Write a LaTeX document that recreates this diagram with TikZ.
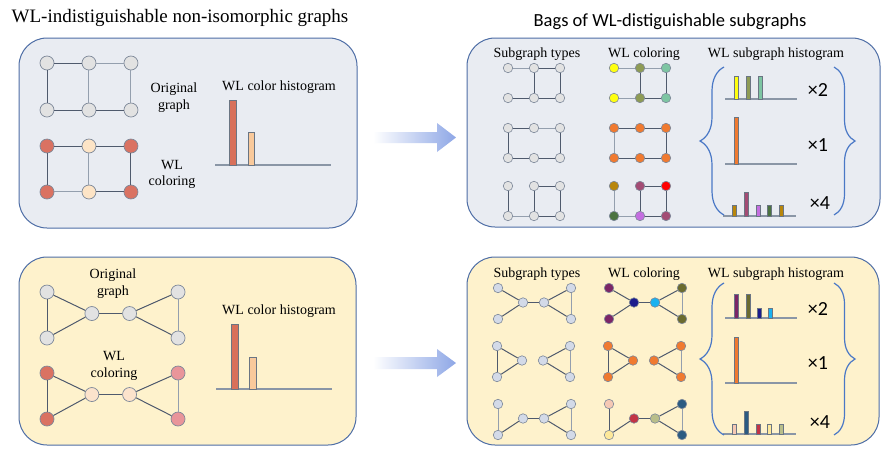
\documentclass[tikz,border=0pt]{standalone}
\usepackage{fontspec}
\setmainfont{Liberation Serif}
\newfontfamily\serfont{Liberation Serif}
\newfontfamily\calfont{Carlito}
\usetikzlibrary{decorations.pathreplacing}
\definecolor{panelline}{HTML}{4E6EA6}
\definecolor{bluefill}{HTML}{E9ECF2}
\definecolor{yelfill}{HTML}{FEF2CC}
\definecolor{nodeline}{HTML}{7D8899}
\definecolor{edgeD}{HTML}{4F5A6D}
\definecolor{edgeL}{HTML}{949FAE}
\definecolor{barline}{HTML}{6A7583}
\definecolor{baseline}{HTML}{8A96A6}
\definecolor{bracec}{HTML}{4A78C6}
\definecolor{arrowblue}{HTML}{8EA7E6}
\definecolor{ngray}{HTML}{E2E2E2}
\definecolor{nblue}{HTML}{D3DAE8}
\definecolor{nred}{HTML}{DA7262}
\definecolor{npeach}{HTML}{FDE4C6}
\definecolor{npeachb}{HTML}{FCE3CC}
\definecolor{npink}{HTML}{E9959A}
\definecolor{bred}{HTML}{D8705A}
\definecolor{bpeach}{HTML}{F9C99B}
\definecolor{cyel}{HTML}{FFFF10}
\definecolor{colive}{HTML}{8E9B55}
\definecolor{cteal}{HTML}{7DC5A2}
\definecolor{corange}{HTML}{F07A30}
\definecolor{cgold}{HTML}{B8860B}
\definecolor{cplum}{HTML}{A34C74}
\definecolor{cred}{HTML}{FF0000}
\definecolor{cgreen}{HTML}{4B7340}
\definecolor{cviolet}{HTML}{C46EE0}
\definecolor{cpurple}{HTML}{7B2667}
\definecolor{cnavy}{HTML}{1C1C8C}
\definecolor{ccyan}{HTML}{1AB2F0}
\definecolor{cdolive}{HTML}{6B6B2E}
\definecolor{cpeach}{HTML}{F5C8B4}
\definecolor{clyel}{HTML}{FDE89A}
\definecolor{ccrim}{HTML}{C23445}
\definecolor{csage}{HTML}{B9BE8A}
\definecolor{ctblue}{HTML}{2B5B82}
\newcommand\gsix[7]{%
 \node[v,fill=#2] (#1a) at (0,0) {};
 \node[v,fill=#3] (#1b) at (26,0) {};
 \node[v,fill=#4] (#1c) at (52,0) {};
 \node[v,fill=#5] (#1d) at (0,30) {};
 \node[v,fill=#6] (#1e) at (26,30) {};
 \node[v,fill=#7] (#1f) at (52,30) {};}
\newcommand\gbow[7]{%
 \node[v,fill=#2] (#1a) at (0,0) {};
 \node[v,fill=#3] (#1b) at (0,31) {};
 \node[v,fill=#4] (#1c) at (25,14.5) {};
 \node[v,fill=#5] (#1d) at (46,14.5) {};
 \node[v,fill=#6] (#1e) at (73,0) {};
 \node[v,fill=#7] (#1f) at (73,31) {};}
\newcommand\gedges[2]{\foreach \u/\w/\s in {#2} \draw[\s] (#1\u) -- (#1\w);}
\begin{document}
\begin{tikzpicture}[x=1pt,y=-1pt,
 panel/.style={draw=panelline,line width=1pt,rounded corners=28pt},
 v/.style={circle,draw=nodeline,line width=0.6pt,inner sep=0pt,minimum size=9.5pt},
 bigv/.style={v/.style={circle,draw=nodeline,line width=0.7pt,inner sep=0pt,minimum size=14pt}},
 eD/.style={draw=edgeD,line width=1pt},
 eL/.style={draw=edgeL,line width=1pt},
 hbar/.style={draw=barline,line width=0.7pt},
 hline/.style={draw=baseline,line width=1.1pt},
 lbl/.style={font=\serfont\fontsize{14}{17}\selectfont,inner sep=0pt,anchor=base},
 mult/.style={font=\calfont\fontsize{20}{24}\selectfont,inner sep=0pt},
 brc/.style={draw=bracec,line width=1.2pt,decorate,decoration={brace,amplitude=#1}},
 arr/.style={left color=white,right color=arrowblue,draw=none}]
\useasboundingbox (0,0) rectangle (888,456);
\fill[white] (0,0) rectangle (888,456);
% panels
\draw[panel,fill=bluefill] (19,38) rectangle (357,228);
\draw[panel,fill=bluefill] (467,38) rectangle (880,227);
\draw[panel,fill=yelfill] (19,257) rectangle (356,445);
\draw[panel,fill=yelfill] (467,257) rectangle (879,445);
% titles
\node[font=\serfont\fontsize{19}{22}\selectfont,anchor=base,inner sep=0pt] (t1) at (180,22.7) {WL-indistiguishable non-isomorphic graphs};
\node[font=\calfont\fontsize{18.5}{22}\selectfont,anchor=base,inner sep=0pt] (t2) at (670,26.7) {Bags of WL-distiguishable subgraphs};
% arrows
\shade[arr] (373,132) -- (437,132) -- (437,123) -- (456,137.5) -- (437,152) -- (437,143) -- (373,143) -- cycle;
\shade[arr] (373,357) -- (437,357) -- (437,349) -- (456,363) -- (437,377) -- (437,369) -- (373,369) -- cycle;
% ---------- top left ----------
\begin{scope}[shift={(47,63)},xscale=1.615,yscale=1.567,bigv]
\gsix{tlo}{ngray}{ngray}{ngray}{ngray}{ngray}{ngray}
\end{scope}
\begin{scope}[shift={(47,146)},xscale=1.615,yscale=1.533,bigv]
\gsix{tlw}{nred}{npeach}{nred}{nred}{npeach}{nred}
\end{scope}
\gedges{tlo}{a/b/eD,b/c/eL,a/d/eD,b/e/eL,c/f/eL,d/e/eD,e/f/eD}
\gedges{tlw}{a/b/eD,b/c/eD,a/d/eD,b/e/eL,c/f/eD,d/e/eL,e/f/eD}
\node[lbl] (tlog1) at (174,92) {Original};
\node[lbl] (tlog2) at (174,109) {graph};
\node[lbl] (tlwl1) at (172,169.5) {WL};
\node[lbl] (tlwl2) at (172,185.5) {coloring};
\node[lbl] (tlh) at (279,90) {WL color histogram};
\draw[hline] (215,165) -- (331,165);
\draw[hbar,fill=bred] (229,165) rectangle (236,100);
\draw[hbar,fill=bpeach] (248,165) rectangle (254.5,132);
% ---------- bottom left ----------
\begin{scope}[shift={(47,292)},xscale=1.795,yscale=1.484,bigv]
\gbow{blo}{ngray}{ngray}{ngray}{ngray}{ngray}{ngray}
\end{scope}
\begin{scope}[shift={(47,373)},xscale=1.795,yscale=1.484,bigv]
\gbow{blw}{nred}{nred}{npeachb}{npeachb}{npink}{npink}
\end{scope}
\gedges{blo}{a/b/eD,a/c/eD,b/c/eD,c/d/eD,d/e/eD,d/f/eD,e/f/eL}
\gedges{blw}{a/b/eD,a/c/eD,b/c/eD,c/d/eD,d/e/eD,d/f/eD,e/f/eL}
\node[lbl] (blog1) at (113,278) {Original};
\node[lbl] (blog2) at (113,295) {graph};
\node[lbl] (blwl1) at (114,360) {WL};
\node[lbl] (blwl2) at (114,377) {coloring};
\node[lbl] (blh) at (279,314) {WL color histogram};
\draw[hline] (216,389) -- (332,389);
\draw[hbar,fill=bred] (231,389) rectangle (238,324);
\draw[hbar,fill=bpeach] (249,389) rectangle (256,357);
% ---------- top right ----------
\node[lbl] (trh1) at (537,57) {Subgraph types};
\node[lbl] (trh2) at (644,57) {WL coloring};
\node[lbl] (trh3) at (776,57) {WL subgraph histogram};
\begin{scope}[shift={(508,68)}]\gsix{rat}{ngray}{ngray}{ngray}{ngray}{ngray}{ngray}\end{scope}
\begin{scope}[shift={(614,68)}]\gsix{raw}{cyel}{colive}{cteal}{cyel}{colive}{cteal}\end{scope}
\begin{scope}[shift={(508,128)}]\gsix{rbt}{ngray}{ngray}{ngray}{ngray}{ngray}{ngray}\end{scope}
\begin{scope}[shift={(614,128)}]\gsix{rbw}{corange}{corange}{corange}{corange}{corange}{corange}\end{scope}
\begin{scope}[shift={(508,186)}]\gsix{rct}{ngray}{ngray}{ngray}{ngray}{ngray}{ngray}\end{scope}
\begin{scope}[shift={(614,186)}]\gsix{rcw}{cgold}{cplum}{cred}{cgreen}{cviolet}{cplum}\end{scope}
\gedges{rat}{a/b/eL,b/c/eD,b/e/eD,c/f/eD,d/e/eD,e/f/eD}
\gedges{raw}{a/b/eL,b/c/eL,b/e/eD,c/f/eD,d/e/eL,e/f/eD}
\gedges{rbt}{a/b/eD,b/c/eL,a/d/eD,c/f/eD,d/e/eD,e/f/eD}
\gedges{rbw}{a/b/eD,b/c/eD,a/d/eL,c/f/eD,d/e/eD,e/f/eD}
\gedges{rct}{a/d/eD,d/e/eL,e/f/eD,b/e/eD,b/c/eD,c/f/eD}
\gedges{rcw}{a/d/eL,d/e/eL,e/f/eD,b/e/eD,b/c/eD,c/f/eD}
% histograms
\draw[hline] (725,99) -- (797,99);
\draw[hbar,fill=cyel] (734,99) rectangle (738,76);
\draw[hbar,fill=colive] (746,99) rectangle (750,76);
\draw[hbar,fill=cteal] (758,99) rectangle (762,76);
\draw[hline] (725,164) -- (797,164);
\draw[hbar,fill=corange] (734,164) rectangle (738,117);
\draw[hline] (723,216) -- (796,216);
\draw[hbar,fill=cgold] (732,216) rectangle (736,205);
\draw[hbar,fill=cplum] (744,216) rectangle (748,192);
\draw[hbar,fill=cviolet] (756,216) rectangle (760,205);
\draw[hbar,fill=cgreen] (767,216) rectangle (771,205);
\draw[hbar,fill=cgold] (779,216) rectangle (783,205);
\draw[brc=24pt] (724,215) -- (724,67);
\draw[brc=21pt] (834,67) -- (834,215);
\node[mult] (m1) at (818,90) {×2};
\node[mult] (m2) at (818,145) {×1};
\node[mult] (m3) at (820,203) {×4};
% ---------- bottom right ----------
\node[lbl] (brh1) at (537,277) {Subgraph types};
\node[lbl] (brh2) at (644,277) {WL coloring};
\node[lbl] (brh3) at (776,277) {WL subgraph histogram};
\begin{scope}[shift={(498,288)}]\gbow{sat}{nblue}{nblue}{nblue}{nblue}{nblue}{nblue}\end{scope}
\begin{scope}[shift={(609,288)}]\gbow{saw}{cpurple}{cpurple}{cnavy}{ccyan}{cdolive}{cdolive}\end{scope}
\begin{scope}[shift={(497,346)}]\gbow{sbt}{nblue}{nblue}{nblue}{nblue}{nblue}{nblue}\end{scope}
\begin{scope}[shift={(608,346)}]\gbow{sbw}{corange}{corange}{corange}{corange}{corange}{corange}\end{scope}
\begin{scope}[shift={(498,404)}]\gbow{sct}{nblue}{nblue}{nblue}{nblue}{nblue}{nblue}\end{scope}
\begin{scope}[shift={(609,404)}]\gbow{scw}{cpeach}{clyel}{ccrim}{csage}{ctblue}{ctblue}\end{scope}
\gedges{sat}{a/c/eD,b/c/eD,c/d/eD,d/e/eD,d/f/eD,e/f/eL}
\gedges{saw}{a/c/eD,b/c/eD,c/d/eD,d/e/eD,d/f/eD,e/f/eL}
\gedges{sbt}{a/b/eD,a/c/eD,b/c/eD,d/e/eD,d/f/eD,e/f/eL}
\gedges{sbw}{a/b/eD,a/c/eD,b/c/eD,d/e/eD,d/f/eD,e/f/eL}
\gedges{sct}{a/b/eL,b/c/eD,c/d/eD,d/e/eD,d/f/eD,e/f/eL}
\gedges{scw}{a/b/eD,b/c/eD,c/d/eD,d/e/eD,d/f/eD,e/f/eL}
\draw[hline] (725,318) -- (797,318);
\draw[hbar,fill=cpurple] (734,318) rectangle (738,294);
\draw[hbar,fill=cdolive] (746,318) rectangle (750,294);
\draw[hbar,fill=cnavy] (757,318) rectangle (761,308);
\draw[hbar,fill=ccyan] (768,318) rectangle (772,308);
\draw[hline] (725,383) -- (797,383);
\draw[hbar,fill=corange] (734,383) rectangle (738,337);
\draw[hline] (723,434) -- (796,434);
\draw[hbar,fill=cpeach] (732,434) rectangle (736,424);
\draw[hbar,fill=ctblue] (744,434) rectangle (748,411);
\draw[hbar,fill=ccrim] (756,434) rectangle (760,424);
\draw[hbar,fill=clyel] (767,434) rectangle (771,424);
\draw[hbar,fill=csage] (779,434) rectangle (783,424);
\draw[brc=24pt] (724,435) -- (724,283);
\draw[brc=21pt] (834,283) -- (834,435);
\node[mult] (m4) at (818,309) {×2};
\node[mult] (m5) at (818,363) {×1};
\node[mult] (m6) at (820,422) {×4};
\end{tikzpicture}
\end{document}
